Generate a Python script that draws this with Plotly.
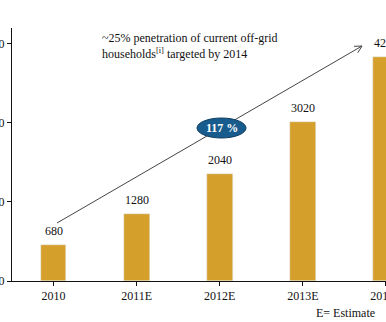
import math
import plotly.graph_objects as go

categories = ["2010", "2011E", "2012E", "2013E", "2014E"]
values = [680, 1280, 2040, 3020, 4250]
value_labels = ["680", "1280", "2040", "3020", "4250"]
y_ticks = [0, 1500, 3000, 4500]
y_tick_labels = ["0", "1500", "3000", "4500"]

BAR = "#D4A02B"
FONT = "Liberation Serif"

W, H = 386, 322
ml, mr, mt, mb = 12, 0, 28, 41
xr = [-0.5, 4.0001]
yr = [0, 4803]
pxx = (W - ml - mr) / (xr[1] - xr[0])
pxy = (H - mt - mb) / (yr[1] - yr[0])

fig = go.Figure()
fig.add_trace(go.Bar(x=list(range(len(categories))), y=values, marker_color=BAR,
                     width=0.31, showlegend=False, hoverinfo="skip"))

for i, (v, t) in enumerate(zip(values, value_labels)):
    fig.add_annotation(x=i, y=v, text=t, showarrow=False, yanchor="bottom", yshift=5,
                       font=dict(family=FONT, size=12, color="#111"))

# arrow line (pixel positions converted to data coordinates)
def px2data(px, py):
    return xr[0] + (px - ml) / pxx, (H - mb - py) / pxy

x0, y0 = px2data(57, 223)
x1, y1 = px2data(362, 46)
fig.add_shape(type="line", x0=x0, y0=y0, x1=x1, y1=y1, xref="x", yref="y",
              line=dict(color="#444", width=1))
# open arrow head, computed in screen pixels
sx, sy = 362 - 57, 46 - 223
L = math.hypot(sx, sy)
bx, by = -sx / L, -sy / L
for s in (1, -1):
    a = math.radians(28) * s
    rx = bx * math.cos(a) - by * math.sin(a)
    ry = bx * math.sin(a) + by * math.cos(a)
    hx, hy = px2data(362 + 8 * rx, 46 + 8 * ry)
    fig.add_shape(type="line", x0=x1, y0=y1, x1=hx, y1=hy, xref="x", yref="y",
                  line=dict(color="#444", width=1))

# ellipse with 117 %
ex0, ey0 = px2data(197, 138)
ex1, ey1 = px2data(246, 118)
fig.add_shape(type="circle", x0=ex0, x1=ex1, y0=ey0, y1=ey1,
              xref="x", yref="y", fillcolor="#175C8C", line=dict(color="#0E3E60", width=1))
fig.add_annotation(x=(ex0 + ex1) / 2, y=(ey0 + ey1) / 2, text="<b>117 %</b>", showarrow=False,
                   font=dict(family=FONT, size=12, color="white"))

def pp(px, py):
    return (px - ml) / (W - ml - mr), (H - mb - py) / (H - mt - mb)

tx, ty = pp(100, 29)
fig.add_annotation(x=tx, y=ty, xref="paper", yref="paper", xanchor="left", yanchor="top",
                   align="left", showarrow=False,
                   text="~25% penetration of current off-grid<br>households<sup>[i]</sup> targeted by 2014",
                   font=dict(family=FONT, size=12, color="#111"))
ex, ey = pp(377, 313)
fig.add_annotation(x=ex, y=ey, xref="paper", yref="paper", xanchor="right", yanchor="middle",
                   showarrow=False, text="E= Estimate",
                   font=dict(family=FONT, size=12, color="#111"))

fig.update_layout(
    width=W, height=H, margin=dict(l=ml, r=mr, t=mt, b=mb, autoexpand=False),
    paper_bgcolor="white", plot_bgcolor="white",
    font=dict(family=FONT, size=12, color="#111"),
    xaxis=dict(range=xr, tickmode="array", tickvals=list(range(len(categories))),
               ticktext=categories, showgrid=False, zeroline=False,
               showline=True, linecolor="#111", linewidth=1, ticks="outside", ticklen=4,
               tickcolor="#111", tickson="boundaries", type="linear",
               ticklabeloverflow="allow"),
    yaxis=dict(range=yr, tickvals=y_ticks, ticktext=y_tick_labels, showgrid=False,
               zeroline=False, showline=True, linecolor="#111", linewidth=1,
               ticks="outside", ticklen=4, tickcolor="#111", ticklabeloverflow="allow"),
    bargap=0,
)
fig.write_html("out.html")
